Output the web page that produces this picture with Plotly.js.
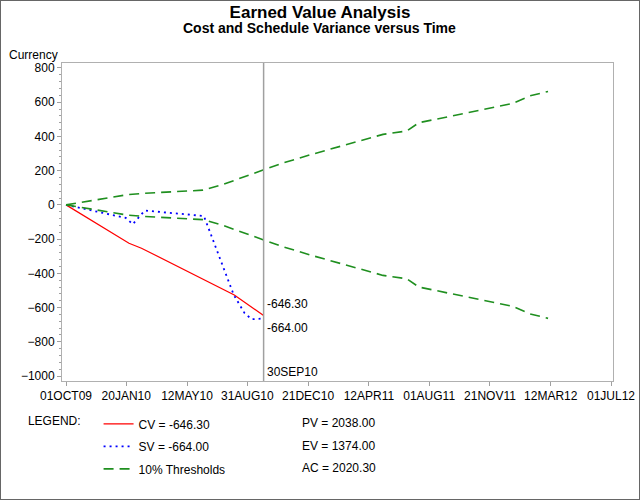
<!DOCTYPE html>
<html>
<head>
<meta charset="utf-8">
<script src="https://cdn.plot.ly/plotly-3.0.1.min.js"></script>
<style>
  body { margin: 0; background: #fff; }
  #chart { width: 638px; height: 498px; border: 1px solid #666; }
</style>
</head>
<body>
<div id="chart"></div>
<script>
// ---- Data ----
const cvDates  = ['2009-10-01', '2010-01-25', '2010-02-17', '2010-08-07', '2010-09-30'];
const cvValues = [0, -224, -253, -526, -646.30];

const svDates  = ['2009-10-01', '2010-01-19', '2010-02-01', '2010-02-23', '2010-06-12',
                  '2010-08-06', '2010-08-26', '2010-09-08', '2010-09-30'];
const svValues = [0, -76, -113, -33, -65, -526, -633, -668, -664.00];

const thrDates  = ['2009-10-01', '2010-01-23', '2010-02-23', '2010-06-10', '2010-07-15',
                   '2010-09-30', '2010-10-31', '2010-12-24', '2011-05-08', '2011-06-21',
                   '2011-07-13', '2012-01-01', '2012-02-03', '2012-03-07'];
const thrValues = [0, 60, 68, 86, 117, 203.8, 240, 292, 412, 432, 480, 592, 637, 663];

const statusDate  = '2010-09-30';
const statusLabel = '30SEP10';

const tickDates  = ['2009-10-01', '2010-01-20', '2010-05-12', '2010-08-31', '2010-12-21',
                    '2011-04-12', '2011-08-01', '2011-11-21', '2012-03-12', '2012-07-01'];
const tickLabels = ['01OCT09', '20JAN10', '12MAY10', '31AUG10', '21DEC10',
                    '12APR11', '01AUG11', '21NOV11', '12MAR12', '01JUL12'];

const summaryNames  = ['PV', 'EV', 'AC'];
const summaryValues = [2038.00, 1374.00, 2020.30];

const titleText    = 'Earned Value Analysis';
const subtitleText = 'Cost and Schedule Variance versus Time';

// ---- Chart ----
const FONT = 'Liberation Sans, Arial, Helvetica, sans-serif';
const cvLast = cvValues[cvValues.length - 1];
const svLast = svValues[svValues.length - 1];

const traces = [
  { x: cvDates, y: cvValues, type: 'scatter', mode: 'lines',
    name: 'CV = ' + cvLast.toFixed(2), legendgroup: 'cv',
    line: { color: '#ff0000', width: 1.2 } },
  { x: svDates, y: svValues, type: 'scatter', mode: 'lines',
    name: 'SV = ' + svLast.toFixed(2), legendgroup: 'sv',
    line: { color: '#0000ff', width: 1.8, dash: '2px,4px' } },
  { x: thrDates, y: thrValues, type: 'scatter', mode: 'lines',
    name: '10% Thresholds', legendgroup: 'thr',
    line: { color: '#1f8f1f', width: 1.6, dash: '10px,6px' } },
  { x: thrDates, y: thrValues.map(v => -v), type: 'scatter', mode: 'lines',
    name: '10% Thresholds (lower)', legendgroup: 'thr', showlegend: false,
    line: { color: '#1f8f1f', width: 1.6, dash: '10px,6px' } }
];

const annotations = [
  { text: subtitleText, xref: 'paper', yref: 'paper', x: 0.468, y: 1.110,
    xanchor: 'center', yanchor: 'middle', showarrow: false,
    font: { size: 14, weight: 'bold', color: '#000' } },
  { text: 'Currency', xref: 'paper', yref: 'paper', x: -0.1, y: 1.025,
    xanchor: 'left', yanchor: 'middle', showarrow: false, font: { size: 12 } },
  { text: cvLast.toFixed(2), x: statusDate, y: cvLast, xref: 'x', yref: 'y',
    xanchor: 'left', yanchor: 'middle', xshift: 1, yshift: 12, showarrow: false, font: { size: 12 } },
  { text: svLast.toFixed(2), x: statusDate, y: svLast, xref: 'x', yref: 'y',
    xanchor: 'left', yanchor: 'middle', xshift: 1, yshift: -9, showarrow: false, font: { size: 12 } },
  { text: statusLabel, x: statusDate, y: 0.028, xref: 'x', yref: 'paper',
    xanchor: 'left', yanchor: 'middle', xshift: 1, showarrow: false, font: { size: 12 } }
];
const rowY = [-0.132, -0.203, -0.274];
summaryNames.forEach((n, i) => {
  annotations.push({ text: n + ' = ' + summaryValues[i].toFixed(2), xref: 'paper', yref: 'paper',
    x: 0.432, y: rowY[i], xanchor: 'left', yanchor: 'middle', showarrow: false, font: { size: 12 } });
});

const layout = {
  width: 638, height: 498,
  margin: { l: 61, r: 26, t: 62, b: 118, autoexpand: false },
  paper_bgcolor: '#fff', plot_bgcolor: '#fff',
  font: { family: FONT, size: 12, color: '#000' },
  title: {
    text: titleText,
    font: { family: FONT, size: 17, weight: 'bold', color: '#000' },
    x: 0.5, xanchor: 'center', xref: 'container',
    y: 0.978, yanchor: 'middle', yref: 'container'
  },
  xaxis: {
    type: 'date', range: ['2009-09-23 14:00', '2012-07-04 16:00'],
    tickmode: 'array', tickvals: tickDates, ticktext: tickLabels, tickangle: 0,
    ticks: 'outside', ticklen: 4, tickcolor: '#a0a0a0', tickfont: { size: 12 },
    showline: true, linecolor: '#b0b0b0', linewidth: 1, mirror: true,
    showgrid: false, zeroline: false
  },
  yaxis: {
    range: [-1029, 829], tick0: 0, dtick: 200,
    ticks: 'outside', ticklen: 4, tickcolor: '#a0a0a0', tickfont: { size: 12 },
    minor: { dtick: 40, ticks: 'outside', ticklen: 2, tickcolor: '#a0a0a0', showgrid: false },
    showline: true, linecolor: '#b0b0b0', linewidth: 1, mirror: true,
    showgrid: false, zeroline: false
  },
  shapes: [
    { type: 'line', xref: 'x', yref: 'paper', x0: statusDate, x1: statusDate, y0: 0, y1: 1,
      line: { color: '#a0a0a0', width: 1.5 } }
  ],
  annotations: annotations,
  showlegend: true,
  legend: {
    xref: 'container', yref: 'container', x: 0.039, y: 0.18, xanchor: 'left', yanchor: 'top',
    orientation: 'v', traceorder: 'grouped', tracegroupgap: 3.5,
    bgcolor: 'rgba(0,0,0,0)', borderwidth: 0, font: { size: 12 },
    title: { text: 'LEGEND:&nbsp;&nbsp;&nbsp;', side: 'left', font: { size: 12 } }
  }
};

Plotly.newPlot('chart', traces, layout, { staticPlot: true, displayModeBar: false });
</script>
</body>
</html>
